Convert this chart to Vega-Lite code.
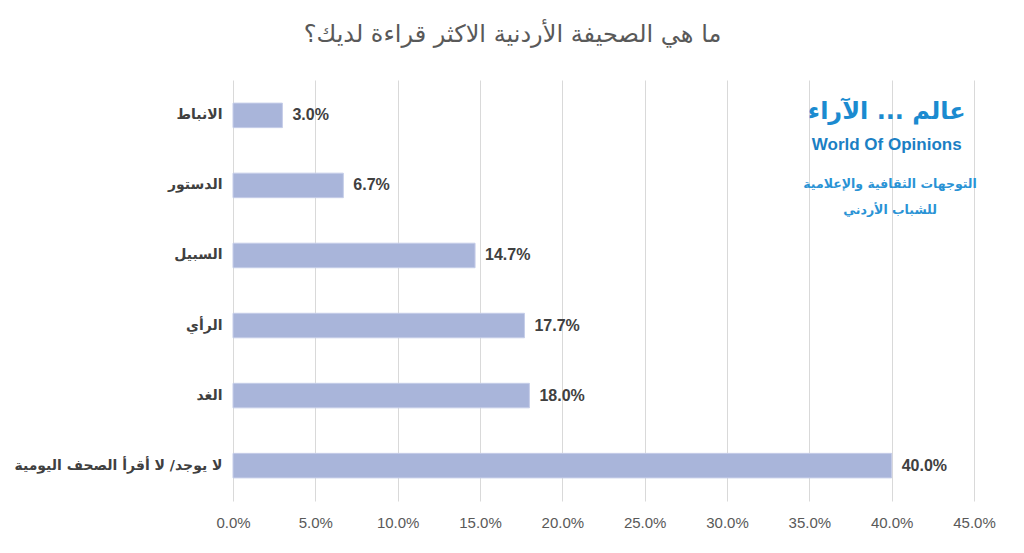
{
  "$schema": "https://vega.github.io/schema/vega-lite/v6.json",
  "width": 741,
  "height": 421,
  "autosize": "none",
  "padding": {"left": 233, "top": 80, "right": 50, "bottom": 52},
  "background": "white",
  "title": {
    "text": "ما هي الصحيفة الأردنية الاكثر قراءة لديك؟",
    "font": "DejaVu Sans",
    "fontSize": 24,
    "fontWeight": "normal",
    "color": "#595959",
    "anchor": "middle",
    "dx": -91,
    "offset": 33
  },
  "config": {
    "view": {"stroke": null},
    "axis": {"labelFont": "Liberation Sans", "titleFont": "Liberation Sans"}
  },
  "data": {
    "values": [
      {"paper": "الانباط", "share": 0.03},
      {"paper": "الدستور", "share": 0.067},
      {"paper": "السبيل", "share": 0.147},
      {"paper": "الرأي", "share": 0.177},
      {"paper": "الغد", "share": 0.18},
      {"paper": "لا يوجد/ لا أقرأ الصحف اليومية", "share": 0.4}
    ]
  },
  "encoding": {
    "y": {
      "field": "paper",
      "type": "nominal",
      "sort": null,
      "scale": {"paddingInner": 0.65, "paddingOuter": 0.33},
      "axis": {
        "title": null,
        "domain": false,
        "ticks": false,
        "labelPadding": 11,
        "labelFont": "DejaVu Sans",
        "labelFontWeight": "bold",
        "labelFontSize": 14,
        "labelColor": "#404040",
        "labelLimit": 240
      }
    }
  },
  "layer": [
    {
      "mark": {"type": "bar", "color": "#a9b5da", "stroke": "#c5cde8", "strokeWidth": 1},
      "encoding": {
        "x": {
          "field": "share",
          "type": "quantitative",
          "scale": {"domain": [0, 0.45], "nice": false},
          "axis": {
            "title": null,
            "format": ".1%",
            "values": [0, 0.05, 0.1, 0.15, 0.2, 0.25, 0.3, 0.35, 0.4, 0.45],
            "domain": false,
            "ticks": false,
            "grid": true,
            "gridColor": "#d9d9d9",
            "labelFontSize": 15,
            "labelColor": "#595959",
            "labelPadding": 14,
            "labelFlush": false
          }
        }
      }
    },
    {
      "mark": {
        "type": "text",
        "align": "left",
        "dx": 10,
        "font": "Liberation Sans",
        "fontWeight": "bold",
        "fontSize": 16,
        "color": "#404040"
      },
      "encoding": {
        "x": {"field": "share", "type": "quantitative"},
        "text": {"field": "share", "type": "quantitative", "format": ".1%"}
      }
    },
    {
      "data": {"values": [{"txt": "عالم ... الآراء"}]},
      "mark": {
        "type": "text",
        "font": "DejaVu Sans",
        "fontWeight": "bold",
        "fontSize": 24,
        "color": "#1b8bd0",
        "dy": -3
      },
      "encoding": {
        "x": {"datum": 0.397, "type": "quantitative"},
        "y": {"datum": "الانباط", "type": "nominal"},
        "text": {"field": "txt"}
      }
    },
    {
      "data": {"values": [{"txt": "World Of Opinions"}]},
      "mark": {
        "type": "text",
        "font": "Liberation Sans",
        "fontWeight": "bold",
        "fontSize": 17,
        "color": "#1b7fc4",
        "dy": 30
      },
      "encoding": {
        "x": {"datum": 0.397, "type": "quantitative"},
        "y": {"datum": "الانباط", "type": "nominal"},
        "text": {"field": "txt"}
      }
    },
    {
      "data": {"values": [{"txt": "التوجهات الثقافية والإعلامية"}]},
      "mark": {
        "type": "text",
        "font": "DejaVu Sans",
        "fontWeight": "bold",
        "fontSize": 12.5,
        "color": "#2a93d5",
        "dy": -1
      },
      "encoding": {
        "x": {"datum": 0.399, "type": "quantitative"},
        "y": {"datum": "الدستور", "type": "nominal"},
        "text": {"field": "txt"}
      }
    },
    {
      "data": {"values": [{"txt": "للشباب الأردني"}]},
      "mark": {
        "type": "text",
        "font": "DejaVu Sans",
        "fontWeight": "bold",
        "fontSize": 12.5,
        "color": "#2a93d5",
        "dy": 25
      },
      "encoding": {
        "x": {"datum": 0.399, "type": "quantitative"},
        "y": {"datum": "الدستور", "type": "nominal"},
        "text": {"field": "txt"}
      }
    }
  ]
}
